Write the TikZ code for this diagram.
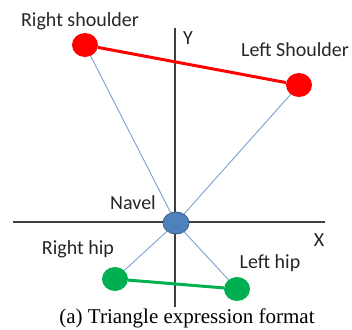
\documentclass[tikz,border=0pt]{standalone}
\usepackage{fontspec}
\setmainfont{Carlito}
\newfontfamily\capfont{Liberation Serif}
\usetikzlibrary{shapes.geometric}

\definecolor{jointred}{HTML}{FF0000}
\definecolor{jointgreen}{HTML}{00B050}
\definecolor{navelblue}{HTML}{4F81BD}
\definecolor{naveledge}{HTML}{385D8A}
\definecolor{linkblue}{HTML}{7BA0D4}
\definecolor{axisgray}{HTML}{3F3F3F}

\begin{document}
\begin{tikzpicture}[x=1pt, y=-1pt,
    dot/.style={ellipse, inner sep=0pt, minimum width=26pt, minimum height=24pt},
    label/.style={font=\fontsize{20}{24}\selectfont, inner sep=0pt, text=black!85},
    axis/.style={draw=axisgray, line width=1.3pt},
    link/.style={draw=linkblue, line width=0.9pt},
    bar/.style={line width=3pt}]
  \useasboundingbox (0,0) rectangle (352,329);

  % axes
  \coordinate (ytop) at (175,28);
  \coordinate (ybot) at (175,307);
  \coordinate (xleft) at (13,222);
  \coordinate (xright) at (325,222);
  \draw[axis] (ytop) -- (ybot);
  \draw[axis] (xleft) -- (xright);
  \node[label] (ylab) at (188,38) {Y};
  \node[label] (xlab) at (319,240) {X};

  % joints
  \node[dot, fill=jointred] (rsh) at (85,45) {};
  \node[dot, fill=jointred] (lsh) at (299,85) {};
  \node[dot, fill=navelblue, draw=naveledge, line width=0.8pt, minimum height=22pt] (nav) at (176,223) {};
  \node[dot, fill=jointgreen] (rhip) at (115,279) {};
  \node[dot, fill=jointgreen] (lhip) at (237,289) {};

  \node[label] (rshlab) at (80,21) {Right shoulder};
  \node[label] (lshlab) at (295,50) {Left Shoulder};
  \node[label] (navlab) at (133,203) {Navel};
  \node[label] (rhiplab) at (78,249) {Right hip};
  \node[label] (lhiplab) at (270,263) {Left hip};

  % links
  \draw[link] (rsh) -- (nav);
  \draw[link] (lsh) -- (nav);
  \draw[link] (nav) -- (rhip);
  \draw[link] (nav) -- (lhip);
  \draw[bar, jointred] (rsh) -- (lsh);
  \draw[bar, jointgreen] (rhip) -- (lhip);

  \node[font=\capfont\fontsize{21}{25}\selectfont, inner sep=0pt] (cap) at (187,318) {(a) Triangle expression format};
\end{tikzpicture}
\end{document}
